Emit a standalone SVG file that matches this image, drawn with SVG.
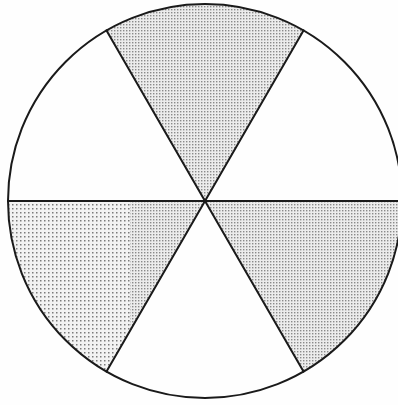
<svg xmlns="http://www.w3.org/2000/svg" width="398" height="405" viewBox="0 0 398 405">
<defs>
<pattern id="dots" width="3" height="3" patternUnits="userSpaceOnUse">
<rect width="3" height="3" fill="#ececec"/>
<rect x="0" y="0" width="1.4" height="1.4" fill="#8a8a8a"/>
</pattern>
<pattern id="dots2" width="4" height="4" patternUnits="userSpaceOnUse">
<rect width="4" height="4" fill="#f2f2f2"/>
<rect x="0" y="0" width="1.5" height="1.5" fill="#7a7a7a"/>
</pattern>
</defs>
<style>
.sec{stroke:none}
.ln{stroke:#1a1a1a;stroke-width:2;fill:none;stroke-linecap:round}
</style>
<rect width="398" height="405" fill="#fefefe"/>
<g id="sector-top"><path class="sec" d="M205,201 L106.5,30.4 A197,197 0 0 1 303.5,30.4 Z" fill="url(#dots)"/></g>
<g id="sector-lower-left"><path class="sec" d="M205,201 L8,201 A197,197 0 0 0 106.5,371.6 Z" fill="url(#dots2)"/>
<path class="sec" d="M205,201 L130,201 L130,330 L106.5,371.6 Z" fill="url(#dots)"/></g>
<g id="sector-lower-right"><path class="sec" d="M205,201 L402,201 A197,197 0 0 1 303.5,371.6 Z" fill="url(#dots)"/></g>
<g id="connectors">
<circle class="ln" cx="205" cy="201" r="197"/>
<line class="ln" x1="8" y1="201" x2="402" y2="201"/>
<line class="ln" x1="106.5" y1="30.4" x2="303.5" y2="371.6"/>
<line class="ln" x1="303.5" y1="30.4" x2="106.5" y2="371.6"/>
</g>
</svg>
